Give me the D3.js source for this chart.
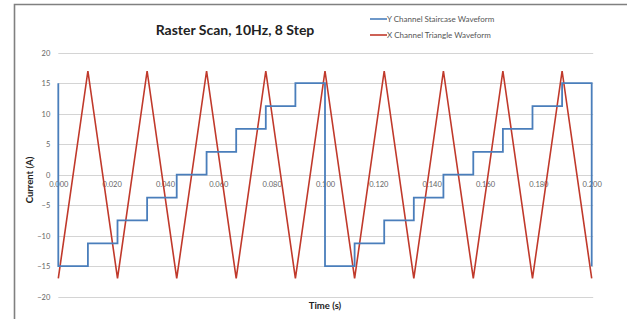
<!DOCTYPE html>
<html lang="en">
<head>
    <meta charset="UTF-8">
    <title>Raster Scan, 10Hz, 8 Step</title>
    <script src="https://d3js.org/d3.v7.min.js"></script>
    <style>
        body { margin: 0; background: #fff; font-family: 'Lato', sans-serif; }
        svg { display: block; }
    </style>
</head>
<body>
    <svg id="chart" width="627" height="319"></svg>

    <script>
        // time points of the triangle vertices / staircase step edges (s)
        const timeS = [0.0000, 0.0111, 0.0222, 0.0333, 0.0444, 0.0556, 0.0667, 0.0778, 0.0889, 0.1000,
                       0.1111, 0.1222, 0.1333, 0.1444, 0.1556, 0.1667, 0.1778, 0.1889, 0.2000];
        // X channel triangle vertices (A)
        const xTriangle = [-17, 17, -17, 17, -17, 17, -17, 17, -17, 17,
                           -17, 17, -17, 17, -17, 17, -17, 17, -17];
        // Y channel staircase: level held from each time point (A)
        const yStaircase = [-15, -11.25, -7.5, -3.75, 0, 3.75, 7.5, 11.25, 15, -15,
                            -11.25, -7.5, -3.75, 0, 3.75, 7.5, 11.25, 15, -15];
        const yStart = 15; // level just before t = 0

        const yTicks = [-20, -15, -10, -5, 0, 5, 10, 15, 20];
        const xTicks = [0.000, 0.020, 0.040, 0.060, 0.080, 0.100, 0.120, 0.140, 0.160, 0.180, 0.200];
        const seriesNames = ["Y Channel Staircase Waveform", "X Channel Triangle Waveform"];
        const seriesColors = ["#4a7ebb", "#c0392b"];

        const svg = d3.select("#chart");

        // outer chart frame
        svg.append("path")
            .attr("d", "M14.5,319 L14.5,4.5 L627,4.5")
            .attr("fill", "none")
            .attr("stroke", "#808080")
            .attr("stroke-width", 1.6);

        const x = d3.scaleLinear().domain([0, 0.2]).range([58.3, 591.7]);
        const y = d3.scaleLinear().domain([-20, 20]).range([296.7, 52.7]);

        // horizontal gridlines
        svg.append("g")
            .selectAll("line")
            .data(yTicks)
            .join("line")
            .attr("x1", x(0))
            .attr("x2", x(0.2) + 1.5)
            .attr("y1", d => Math.round(y(d)) + 0.5)
            .attr("y2", d => Math.round(y(d)) + 0.5)
            .attr("stroke", "#d4d4d4")
            .attr("stroke-width", 1.2);

        // y axis labels
        const yAxis = d3.axisLeft(y).tickValues(yTicks).tickSize(0).tickPadding(8);
        svg.append("g")
            .attr("transform", `translate(${x(0)},0)`)
            .call(yAxis)
            .call(g => g.select(".domain").remove())
            .selectAll("text")
            .attr("font-family", "Lato, sans-serif")
            .attr("font-size", 7.5)
            .attr("fill", "#666");

        // x axis labels, sitting on the zero line
        const xAxis = d3.axisBottom(x).tickValues(xTicks).tickSize(0).tickPadding(7).tickFormat(d3.format(".3f"));
        svg.append("g")
            .attr("transform", `translate(0,${y(0)})`)
            .call(xAxis)
            .call(g => g.select(".domain").remove())
            .selectAll("text")
            .attr("font-family", "Lato, sans-serif")
            .attr("font-size", 7.5)
            .attr("fill", "#666");

        // triangle waveform
        const triLine = d3.line()
            .x((d, i) => x(timeS[i]))
            .y(d => y(d));
        svg.append("path")
            .datum(xTriangle)
            .attr("d", triLine)
            .attr("fill", "none")
            .attr("stroke", seriesColors[1])
            .attr("stroke-width", 1.6)
            .attr("stroke-linejoin", "miter");

        // staircase waveform
        const stairPts = [[0, yStart]].concat(timeS.map((t, i) => [t, yStaircase[i]]));
        const stairLine = d3.line()
            .x(d => x(d[0]))
            .y(d => y(d[1]))
            .curve(d3.curveStepAfter);
        svg.append("path")
            .datum(stairPts)
            .attr("d", stairLine)
            .attr("fill", "none")
            .attr("stroke", seriesColors[0])
            .attr("stroke-width", 1.8);

        // title
        svg.append("text")
            .attr("x", 235)
            .attr("y", 35)
            .attr("text-anchor", "middle")
            .attr("font-family", "Lato, sans-serif")
            .attr("font-weight", "bold")
            .attr("font-size", 14)
            .attr("fill", "#222")
            .text("Raster Scan, 10Hz, 8 Step");

        // axis titles
        svg.append("text")
            .attr("x", 325)
            .attr("y", 309)
            .attr("text-anchor", "middle")
            .attr("font-family", "Lato, sans-serif")
            .attr("font-weight", "bold")
            .attr("font-size", 9.5)
            .attr("fill", "#222")
            .text("Time (s)");

        svg.append("text")
            .attr("transform", "translate(33,180) rotate(-90)")
            .attr("text-anchor", "middle")
            .attr("font-family", "Lato, sans-serif")
            .attr("font-weight", "bold")
            .attr("font-size", 9.5)
            .attr("fill", "#222")
            .text("Current (A)");

        // legend
        const legend = svg.append("g")
            .selectAll("g")
            .data(seriesNames)
            .join("g")
            .attr("transform", (d, i) => `translate(370,${19 + i * 16})`);
        legend.append("line")
            .attr("x1", 0).attr("x2", 17)
            .attr("stroke", (d, i) => seriesColors[i])
            .attr("stroke-width", 1.6);
        legend.append("text")
            .attr("x", 17)
            .attr("dy", "0.35em")
            .attr("font-family", "Lato, sans-serif")
            .attr("font-size", 8)
            .attr("fill", "#555")
            .text(d => d);
    </script>
</body>
</html>
